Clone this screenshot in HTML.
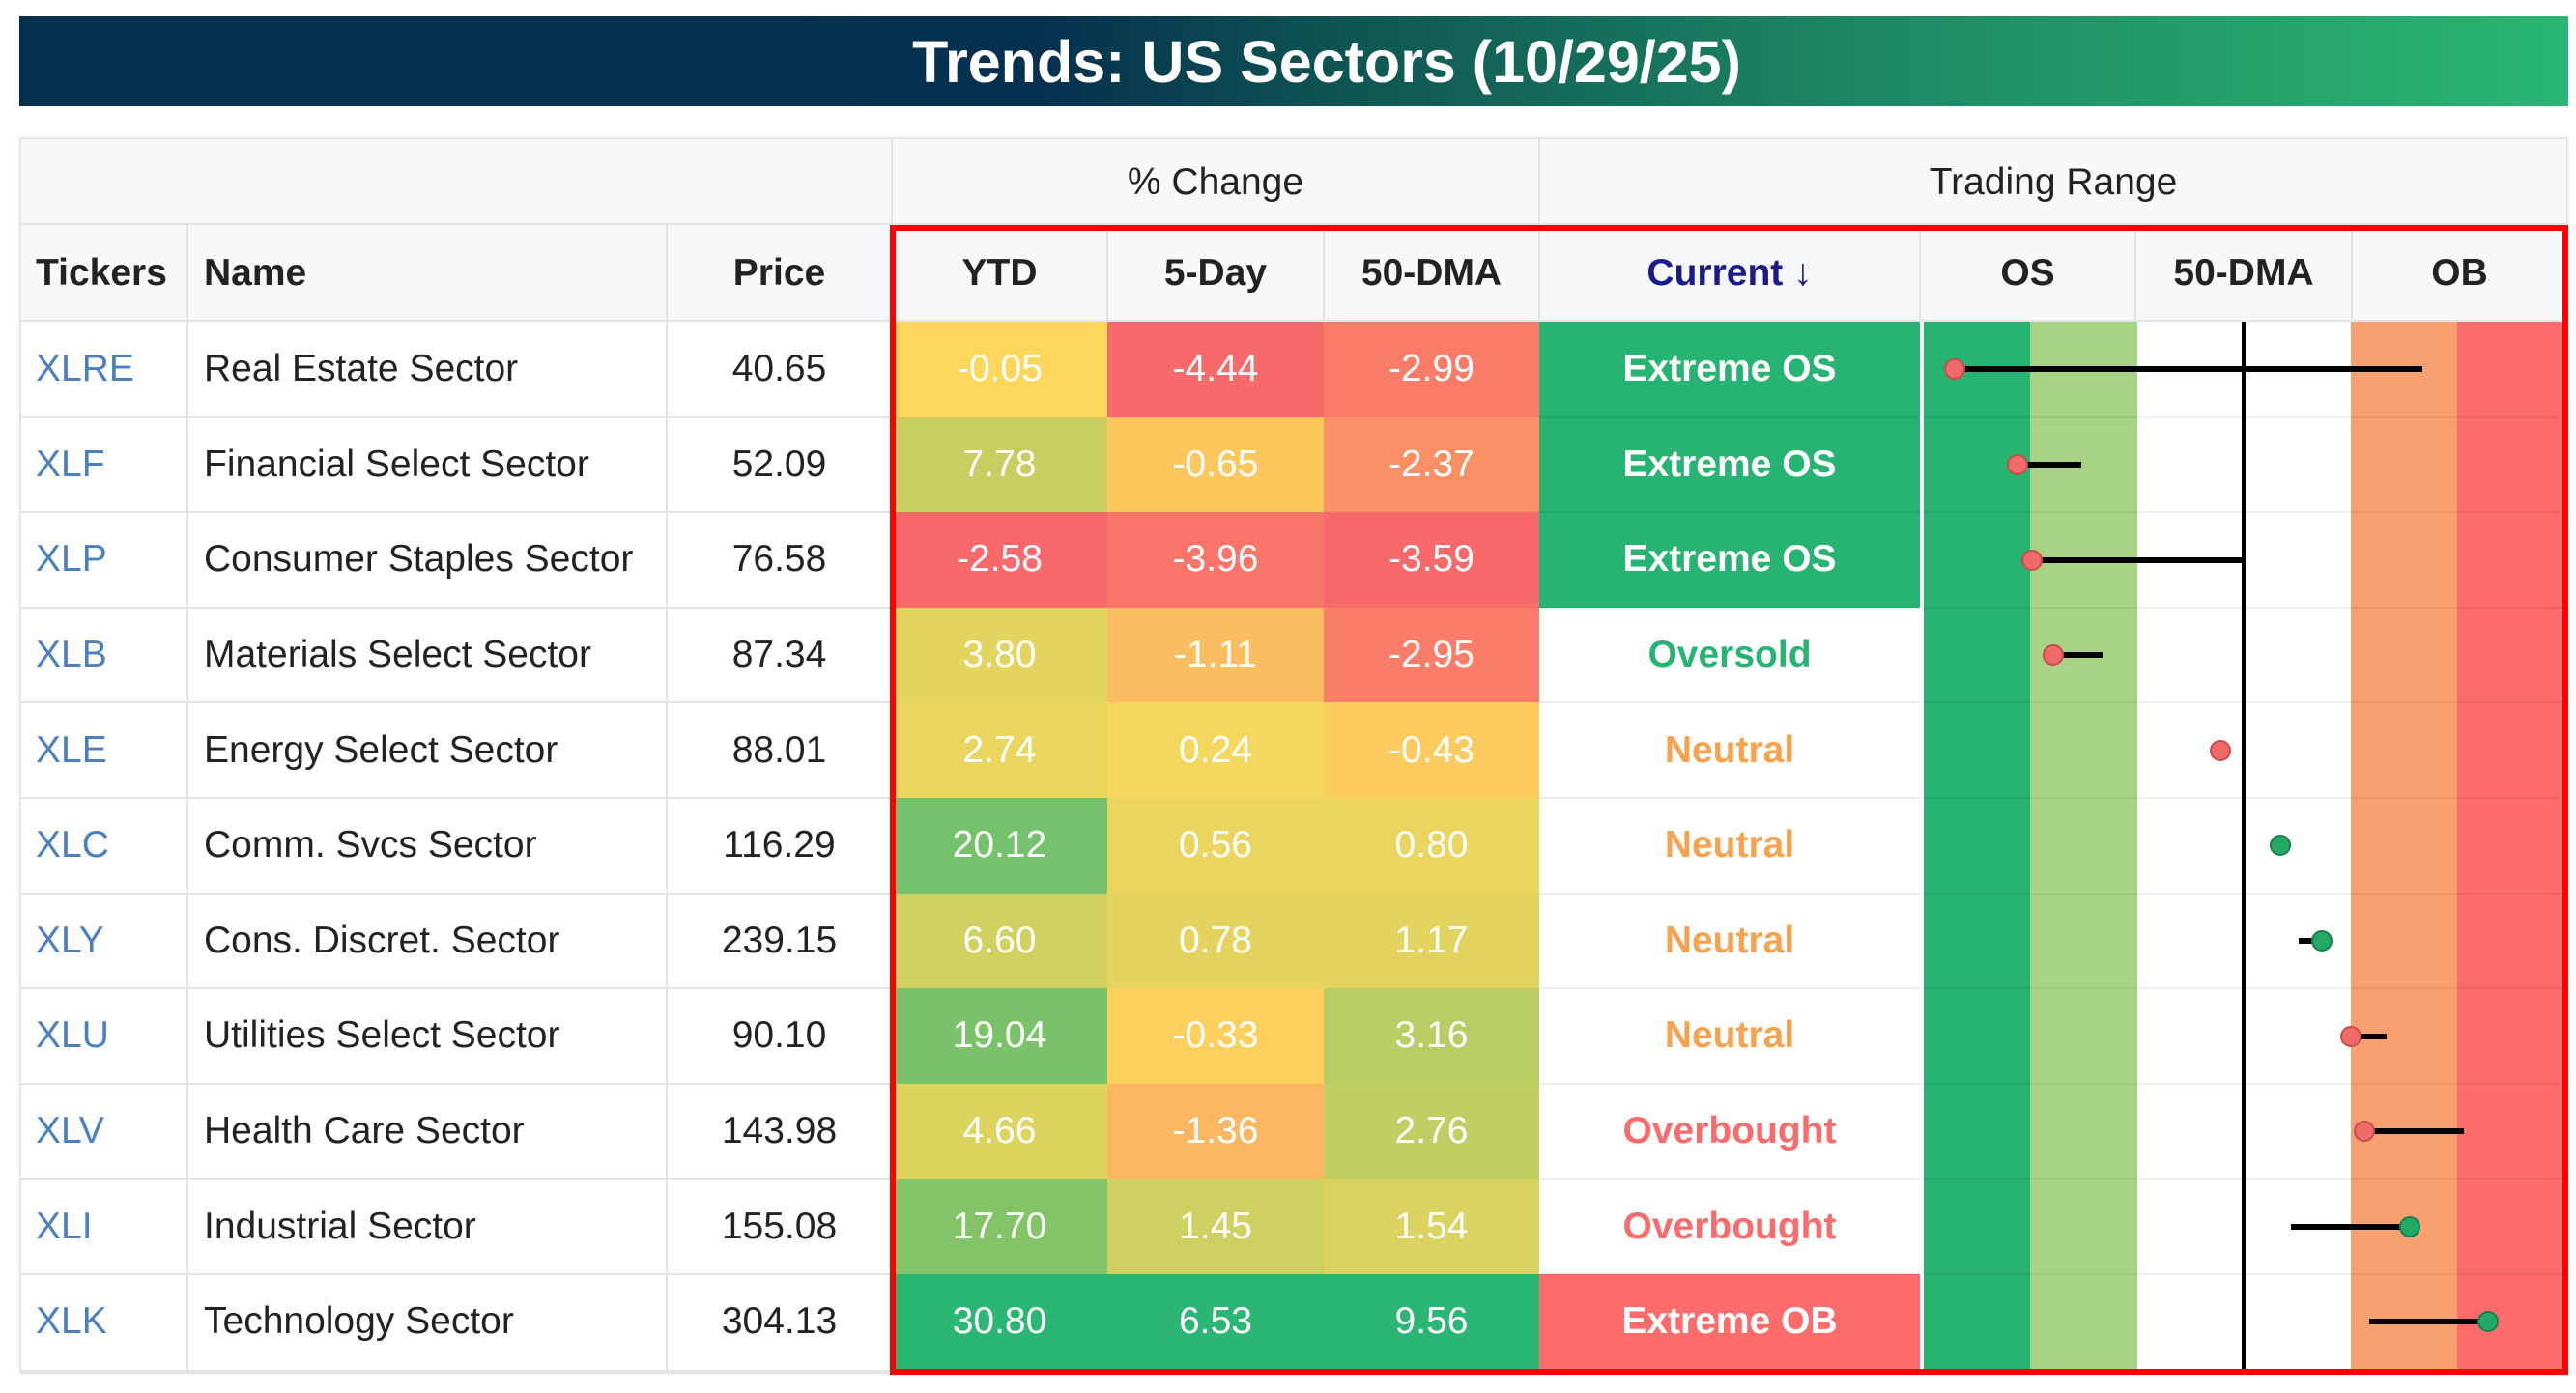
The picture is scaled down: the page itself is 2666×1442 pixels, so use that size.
<!DOCTYPE html>
<html><head><meta charset="utf-8">
<style>
html,body{margin:0;padding:0;background:#fff;}
body{width:2666px;height:1442px;position:relative;overflow:hidden;font-family:"Liberation Sans",Arial,sans-serif;}
.a{position:absolute;box-sizing:border-box;}
.t{display:flex;align-items:center;justify-content:center;font-size:39px;color:#222;white-space:nowrap;}
</style></head>
<body>
<div class="a" style="left:20px;top:17px;width:2638px;height:93px;background:linear-gradient(90deg,#03304f 0%,#05304f 40%,#0f5553 52%,#1d8763 72%,#2bb673 100%);"></div>
<div class="a t" style="left:1000px;top:17px;width:746px;height:93px;color:#fff;font-weight:bold;font-size:61px;">Trends: US Sectors (10/29/25)</div>
<div class="a" style="left:20px;top:142px;width:2638px;height:1280px;border:2px solid #e6e6e6;box-shadow:0 0 4px rgba(0,0,0,0.08);"></div>
<div id="root"></div>
<script>
const tickers=["XLRE","XLF","XLP","XLB","XLE","XLC","XLY","XLU","XLV","XLI","XLK"];
const names=["Real Estate Sector","Financial Select Sector","Consumer Staples Sector","Materials Select Sector","Energy Select Sector","Comm. Svcs Sector","Cons. Discret. Sector","Utilities Select Sector","Health Care Sector","Industrial Sector","Technology Sector"];
const prices=["40.65","52.09","76.58","87.34","88.01","116.29","239.15","90.10","143.98","155.08","304.13"];
const ytd=[-0.05,7.78,-2.58,3.80,2.74,20.12,6.60,19.04,4.66,17.70,30.80];
const fiveDay=[-4.44,-0.65,-3.96,-1.11,0.24,0.56,0.78,-0.33,-1.36,1.45,6.53];
const dma50=[-2.99,-2.37,-3.59,-2.95,-0.43,0.80,1.17,3.16,2.76,1.54,9.56];
const status=["Extreme OS","Extreme OS","Extreme OS","Oversold","Neutral","Neutral","Neutral","Neutral","Overbought","Overbought","Extreme OB"];
const rangeNow=[-2.71,-2.12,-1.98,-1.78,-0.22,0.34,0.73,1.00,1.13,1.56,2.29];
const rangePrior=[1.67,-1.52,0.0,-1.32,-0.18,0.32,0.52,1.34,2.06,0.44,1.18];

const root=document.getElementById('root');
const ROW0=333, RH=98.6;
const cols=[20,194,690,923,1146,1370,1593,1987,2210,2434,2657];
function xR(v){return 2322+v*110.5;}
function mk(cls,l,t,w,h,style,txt){const d=document.createElement('div');d.className=cls;d.style.cssText=`left:${l}px;top:${t}px;width:${w}px;height:${h}px;`+(style||'');if(txt!==undefined)d.textContent=txt;root.appendChild(d);return d;}
const RED=[248,105,107],YEL=[253,216,92],GRN=[43,182,115];
function mix(a,b,f){return `rgb(${a.map((v,i)=>Math.round(v+(b[i]-v)*f)).join(',')})`;}
function heat(v,arr){const mn=Math.min(...arr),mx=Math.max(...arr);if(v<0)return mix(YEL,RED,mn<0?v/mn:0);return mix(YEL,GRN,mx>0?v/mx:0);}

// header backgrounds
let e=mk('a',22,144,2634,189,'background:#f7f8fa;');


e=mk('a t',923,144,670,89,'',"% Change");


e=mk('a t',1593,144,1064,89,'',"Trading Range");


mk('a',22,231,2634,2,'background:#e4e4e4;');
mk('a',922,144,2,89,'background:#e4e4e4;');
mk('a',1592,144,2,89,'background:#e4e4e4;');
const heads=["Tickers","Name","Price","YTD","5-Day","50-DMA","Current ↓","OS","50-DMA","OB"];
const hnames=["tickers-header","name-header","price-header","ytd-header","five-day-header","dma50-header","current-header","os-header","range-dma50-header","ob-header"];
heads.forEach((h,i)=>{
 let al=(i<2)?'justify-content:flex-start;padding-left:17px;':'';
 let col=i==6?'color:#1a1a8a;':'';
 const d=mk('a t',cols[i],233,cols[i+1]-cols[i],100,'font-weight:bold;'+al+col,h);
 
 
 if(i>0)mk('a',cols[i]-1,233,2,100,'background:#e4e4e4;');
});
mk('a',22,331,2634,2,'background:#e4e4e4;');
mk('a',193,233,2,1188,'background:#e4e4e4;');
mk('a',689,233,2,1188,'background:#e4e4e4;');

// range bands
const bands=[[-3,-2,'#27b473'],[-2,-1,'#a9d384'],[-1,1,'#ffffff'],[1,2,'#f9a071'],[2,3,'#fd6b6b']];
bands.forEach((b,i)=>{
 const d=mk('a',xR(b[0]),ROW0,xR(b[1])-xR(b[0]),RH*11,'background:'+b[2]+';');
 
 
});

tickers.forEach((tk,r)=>{
 const y=ROW0+r*RH;
 let d=mk('a t',cols[0],y,cols[1]-cols[0],RH,'justify-content:flex-start;padding-left:17px;color:#4a7fc0;',tk);
 
 
 d=mk('a t',cols[1],y,cols[2]-cols[1],RH,'justify-content:flex-start;padding-left:17px;',names[r]);
 
 
 d=mk('a t',cols[2],y,cols[3]-cols[2],RH,'',prices[r]);
 
 
 [[ytd,'ytd'],[fiveDay,'five-day'],[dma50,'dma50']].forEach((c,ci)=>{
  const v=c[0][r];
  const cell=mk('a t',cols[3+ci],y,cols[4+ci]-cols[3+ci],RH,'color:#fff;background:'+heat(v,c[0])+';',v.toFixed(2));
  
  
 });
 const s=status[r];
 let st='font-weight:bold;';
 if(s=='Extreme OS')st+='background:#27b473;color:#fff;';
 else if(s=='Extreme OB')st+='background:#fd6b6b;color:#fff;';
 else if(s=='Oversold')st+='color:#27b473;';
 else if(s=='Neutral')st+='color:#f7a24f;';
 else st+='color:#fb6b6b;';
 d=mk('a t',cols[6],y,cols[7]-cols[6],RH,st,s);
 
 
 // row line
 if(r>0){
  mk('a',22,y-1,cols[3]-22,2,'background:#e4e4e4;');
  mk('a',cols[6],y-1,cols[7]-cols[6],2,'background:rgba(0,0,0,0.07);');
  mk('a',xR(-3),y-1,xR(3)-xR(-3),2,'background:rgba(0,0,0,0.06);');
 }
});
mk('a',22,ROW0+11*RH,2634,2,'background:#e4e4e4;');
// zero line
let z=mk('a',xR(0)-2,ROW0,4,RH*11,'background:#000;');



tickers.forEach((tk,r)=>{
 const cy=ROW0+r*RH+RH/2;
 const a=xR(rangeNow[r]),b=xR(rangePrior[r]);
 const ln=mk('a',Math.min(a,b),cy-3,Math.abs(a-b),6,'background:#000;');
 
 
 const up=rangeNow[r]>rangePrior[r];
 const dot=mk('a',a-11,cy-11,22,22,'border-radius:50%;background:'+(up?'#23a866':'#f06a6a')+';border:2px solid '+(up?'#1a7f4e':'#c94c4c')+';');
 
 
});

// red highlight box
let box=mk('a',921,233,1737,1190,'border:6px solid #ff0000;');


</script>
</body></html>
